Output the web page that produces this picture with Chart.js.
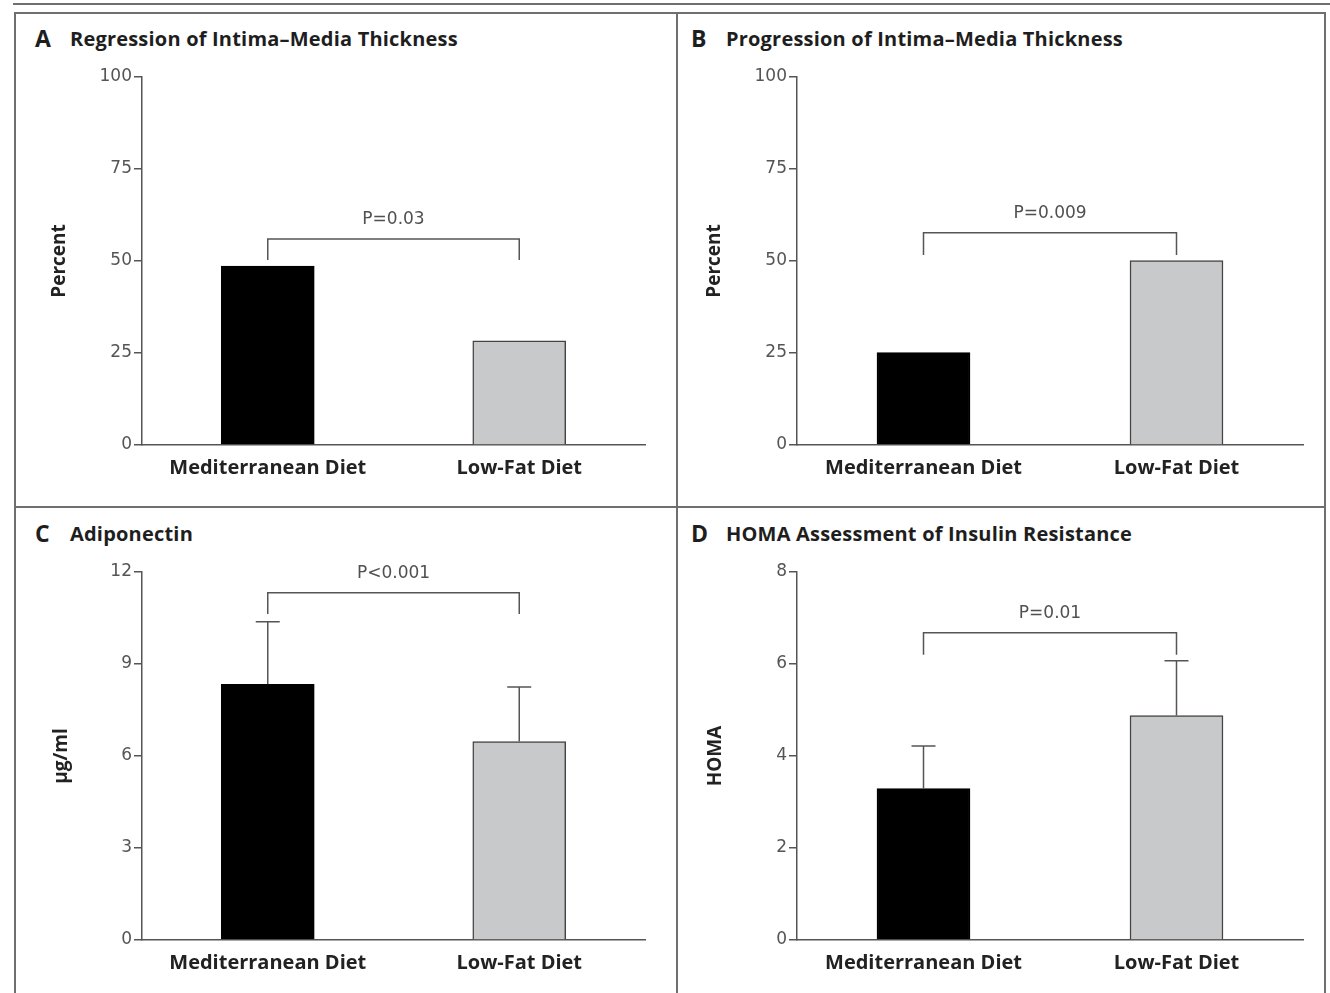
<!DOCTYPE html>
<html lang="en">
<head>
  <meta charset="UTF-8">
  <title>Mediterranean vs Low-Fat Diet</title>
  <script src="https://cdn.jsdelivr.net/npm/chart.js"></script>
  <style>
    body { margin: 0; background: #fff; font-family: "Open Sans", Lato, sans-serif; }
    #page { position: relative; width: 1330px; height: 993px; overflow: hidden; }
    .rule { position: absolute; background: #6f6f6f; }
    .title { position: absolute; font-weight: bold; color: #1e1e1e; white-space: nowrap; }
    .title .letter { position: absolute; left: 0; top: -2px; font-size: 23px; }
    .title .text { position: absolute; left: 35px; top: 1px; font-size: 20px; letter-spacing: 0.2px; }
    canvas { position: absolute; }
  </style>
</head>
<body>
<div id="page">
  <!-- frame -->
  <div class="rule" style="left:13px; top:3px; width:1317px; height:2px;"></div>
  <div class="rule" style="left:14px; top:12px; width:1312px; height:2px;"></div>
  <div class="rule" style="left:14px; top:12px; width:2px; height:981px;"></div>
  <div class="rule" style="left:1324px; top:12px; width:2px; height:981px;"></div>
  <div class="rule" style="left:676px; top:12px; width:2px; height:981px;"></div>
  <div class="rule" style="left:14px; top:506px; width:1312px; height:2px;"></div>

  <div class="title" style="left:35px; top:24px;"><span class="letter">A</span><span class="text">Regression of Intima–Media Thickness</span></div>
  <div class="title" style="left:691px; top:24px;"><span class="letter">B</span><span class="text">Progression of Intima–Media Thickness</span></div>
  <div class="title" style="left:35px; top:519px;"><span class="letter">C</span><span class="text">Adiponectin</span></div>
  <div class="title" style="left:691px; top:519px;"><span class="letter">D</span><span class="text">HOMA Assessment of Insulin Resistance</span></div>

  <canvas id="chartA" width="661" height="445" style="left:15px; top:57px;"></canvas>
  <canvas id="chartB" width="648" height="445" style="left:677px; top:57px;"></canvas>
  <canvas id="chartC" width="661" height="441" style="left:15px; top:552px;"></canvas>
  <canvas id="chartD" width="648" height="441" style="left:677px; top:552px;"></canvas>
</div>

<script>
const categories = ['Mediterranean Diet', 'Low-Fat Diet'];

// A: regression of IMT (percent of patients)
const regressionPct = [48.6, 28.3];
// B: progression of IMT (percent of patients)
const progressionPct = [25.1, 50.1];
// C: adiponectin, mean and top of error bar
const adiponectin = [8.34, 6.47];
const adiponectinUpper = [10.38, 8.25];
// D: HOMA, mean and top of error bar
const homa = [3.29, 4.88];
const homaUpper = [4.22, 6.07];

// significance brackets: [bar level, leg bottom] in axis units
const bracketA = [56.0, 50.3];
const bracketB = [57.7, 51.6];
const bracketC = [11.32, 10.63];
const bracketD = [6.68, 6.2];
const pLabels = ['P=0.03', 'P=0.009', 'P<0.001', 'P=0.01'];

const AXIS = '#555';
const FONT = '"Open Sans", Lato, sans-serif';
const NUMFONT = '"DejaVu Sans", sans-serif';

// draws error bars (upward only) and the P-value bracket
const annotations = {
  id: 'annotations',
  afterDatasetsDraw(chart, args, opts) {
    const ctx = chart.ctx;
    const x = chart.scales.x, y = chart.scales.y;
    ctx.save();
    ctx.strokeStyle = AXIS;
    ctx.lineWidth = 1.5;
    if (opts.upper) {
      const vals = chart.data.datasets[0].data;
      opts.upper.forEach((u, i) => {
        const cx = x.getPixelForValue(i);
        const y0 = y.getPixelForValue(vals[i]);
        const y1 = y.getPixelForValue(u);
        ctx.beginPath();
        ctx.moveTo(cx, y0); ctx.lineTo(cx, y1);
        ctx.moveTo(cx - 12, y1); ctx.lineTo(cx + 12, y1);
        ctx.stroke();
      });
    }
    const b = opts.bracket;
    const x0 = x.getPixelForValue(0), x1 = x.getPixelForValue(1);
    const yb = y.getPixelForValue(b[0]), yl = y.getPixelForValue(b[1]);
    ctx.beginPath();
    ctx.moveTo(x0, yl); ctx.lineTo(x0, yb); ctx.lineTo(x1, yb); ctx.lineTo(x1, yl);
    ctx.stroke();
    ctx.fillStyle = '#505050';
    ctx.font = '17px ' + NUMFONT;
    ctx.textAlign = 'center';
    ctx.textBaseline = 'middle';
    ctx.fillText(opts.label, (x0 + x1) / 2, yb - 19);
    ctx.restore();
  }
};

function makeChart(id, values, yMax, yStep, yTitle, titleOffset, yWidth, padRight, xHeight, bracket, label, upper) {
  return new Chart(document.getElementById(id), {
    type: 'bar',
    data: {
      labels: categories,
      datasets: [{
        data: values,
        backgroundColor: ['#000000', '#c7c9cb'],
        borderColor: ['#000000', '#444444'],
        borderWidth: 1.5,
        barThickness: 93
      }]
    },
    options: {
      responsive: false,
      animation: false,
      devicePixelRatio: 1,
      layout: { padding: { top: 20, right: padRight, left: 0, bottom: 0 } },
      plugins: {
        legend: { display: false },
        tooltip: { enabled: false },
        annotations: { bracket: bracket, label: label, upper: upper }
      },
      scales: {
        x: {
          afterFit: s => { s.height = xHeight; },
          grid: { display: false, drawTicks: false },
          border: { display: true, color: AXIS, width: 1.5 },
          ticks: { color: '#222', font: { family: FONT, size: 20, weight: 'bold' }, padding: 11 }
        },
        y: {
          min: 0, max: yMax,
          afterFit: s => { s.width = yWidth; },
          ticks: { stepSize: yStep, color: '#555', font: { family: NUMFONT, size: 17 }, padding: 2 },
          grid: { display: true, drawOnChartArea: false, drawTicks: true, tickLength: 8, color: AXIS, lineWidth: 1.5 },
          border: { display: true, color: AXIS, width: 1.5 },
          title: {
            display: true, text: yTitle, color: '#222',
            font: { family: FONT, size: 19, weight: 'bold' },
            padding: { top: titleOffset, bottom: 0 }
          }
        }
      }
    },
    plugins: [annotations]
  });
}

makeChart('chartA', regressionPct, 100, 25, 'Percent', 33, 127, 31, 57, bracketA, pLabels[0], null);
makeChart('chartB', progressionPct, 100, 25, 'Percent', 26, 120, 22, 57, bracketB, pLabels[1], null);
makeChart('chartC', adiponectin, 12, 3, 'μg/ml', 35, 127, 31, 53, bracketC, pLabels[2], adiponectinUpper);
makeChart('chartD', homa, 8, 2, 'HOMA', 27, 120, 22, 53, bracketD, pLabels[3], homaUpper);
</script>
</body>
</html>
